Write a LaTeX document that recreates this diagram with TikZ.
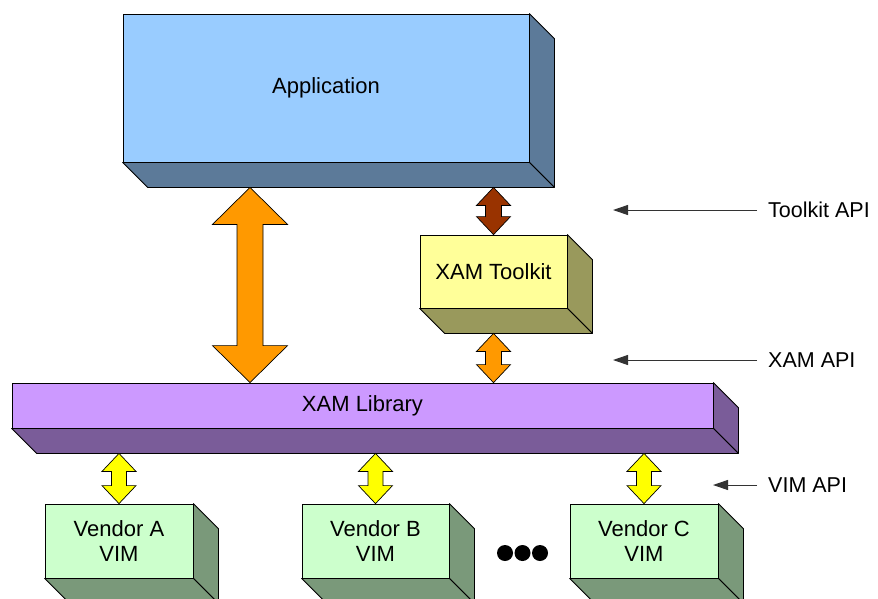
\documentclass[tikz,border=0pt]{standalone}
\usepackage{fontspec}
\setmainfont{Liberation Sans}
\usetikzlibrary{calc,arrows.meta}
\definecolor{appF}{HTML}{99CCFF}
\definecolor{appS}{HTML}{5C7A99}
\definecolor{tkF}{HTML}{FFFF99}
\definecolor{tkS}{HTML}{99995C}
\definecolor{libF}{HTML}{CC99FF}
\definecolor{libS}{HTML}{7A5C99}
\definecolor{vF}{HTML}{CCFFCC}
\definecolor{vS}{HTML}{7A997A}
\definecolor{orangeA}{HTML}{FF9900}
\definecolor{brownA}{HTML}{993300}
\definecolor{yellowA}{HTML}{FFFF00}
\newcommand\extrude[2]{%
  \filldraw[fill=#2, draw=black, line width=0.8pt, line join=round]
    (#1.north east) -- ++(25pt,-25pt) -- ([shift={(25pt,-25pt)}]#1.south east) -- (#1.south east) -- cycle;
  \filldraw[fill=#2, draw=black, line width=0.8pt, line join=round]
    (#1.south west) -- (#1.south east) -- ([shift={(25pt,-25pt)}]#1.south east) -- ([shift={(25pt,-25pt)}]#1.south west) -- cycle;}
% #1 top, #2 bottom, #3 head half width, #4 shaft half width, #5 head length, #6 fill
\newcommand\dblarrow[6]{%
  \filldraw[fill=#6, draw=black, line width=0.7pt, line join=miter] let \p1=(#1), \p2=(#2) in
    (\x1,\y1) -- (\x1+#3,\y1-#5) -- (\x1+#4,\y1-#5) -- (\x1+#4,\y2+#5) -- (\x1+#3,\y2+#5)
    -- (\x1,\y2) -- (\x1-#3,\y2+#5) -- (\x1-#4,\y2+#5) -- (\x1-#4,\y1-#5) -- (\x1-#3,\y1-#5) -- cycle;}
\begin{document}
\begin{tikzpicture}[x=1pt,y=-1pt,
  box/.style={draw=black, line width=0.8pt, inner sep=0pt, align=center,
    font=\fontsize{22}{25}\selectfont},
  lbl/.style={inner sep=0pt, anchor=west, font=\fontsize{21.5}{25}\selectfont},
  apiarr/.style={draw=black!80, line width=1pt, -{Triangle[length=15pt,width=10pt]}},
  dot/.style={circle, fill=black, inner sep=0pt, minimum size=16pt}]
\useasboundingbox (0,0) rectangle (878,598);
% boxes
\node[box, fill=appF, minimum width=406pt, minimum height=148pt] (app) at (326,88) {Application};
\node[box, fill=tkF, minimum width=147pt, minimum height=73pt] (tk) at (493.5,271.5) {XAM Toolkit};
\node[box, fill=libF, minimum width=701pt, minimum height=45pt] (lib) at (362.5,405.5) {XAM Library};
\node[box, fill=vF, minimum width=148pt, minimum height=74pt] (va) at (119,541) {Vendor A\\VIM};
\node[box, fill=vF, minimum width=147pt, minimum height=74pt] (vb) at (375.5,541) {Vendor B\\VIM};
\node[box, fill=vF, minimum width=148pt, minimum height=74pt] (vc) at (644,541) {Vendor C\\VIM};
\extrude{app}{appS}
\extrude{tk}{tkS}
\extrude{lib}{libS}
\extrude{va}{vS}
\extrude{vb}{vS}
\extrude{vc}{vS}
% bottom coordinates of extruded boxes
\coordinate (appb) at ([yshift=-25pt]app.south);
\coordinate (tkb) at ([yshift=-25pt]tk.south);
\coordinate (libb) at ([yshift=-25pt]lib.south);
\coordinate (bigx) at (250,0);
% block arrows
\dblarrow{appb -| bigx}{lib.north -| bigx}{37.5pt}{13pt}{37pt}{orangeA}
\dblarrow{appb -| tk}{tk.north}{17pt}{8pt}{18pt}{brownA}
\dblarrow{tkb -| tk}{lib.north -| tk}{17pt}{8pt}{18pt}{orangeA}
\dblarrow{libb -| va}{va.north}{17pt}{7.5pt}{18pt}{yellowA}
\dblarrow{libb -| vb}{vb.north}{17pt}{7.5pt}{18pt}{yellowA}
\dblarrow{libb -| vc}{vc.north}{17pt}{7.5pt}{18pt}{yellowA}
% dots
\node[dot] (d1) at (505,553) {};
\node[dot] (d2) at (522.5,553) {};
\node[dot] (d3) at (540,553) {};
% API labels
\node[lbl] (tkapi) at (768,210) {Toolkit API};
\node[lbl] (xamapi) at (768,360) {XAM API};
\node[lbl] (vimapi) at (768,485) {VIM API};
\coordinate (tkapiT) at (613,210);
\coordinate (xamapiT) at (613,360);
\coordinate (vimapiT) at (713,485);
\draw[apiarr] ([xshift=-11pt]tkapi.west) -- (tkapiT);
\draw[apiarr] ([xshift=-11pt]xamapi.west) -- (xamapiT);
\draw[apiarr] ([xshift=-11pt]vimapi.west) -- (vimapiT);
\end{tikzpicture}
\end{document}
